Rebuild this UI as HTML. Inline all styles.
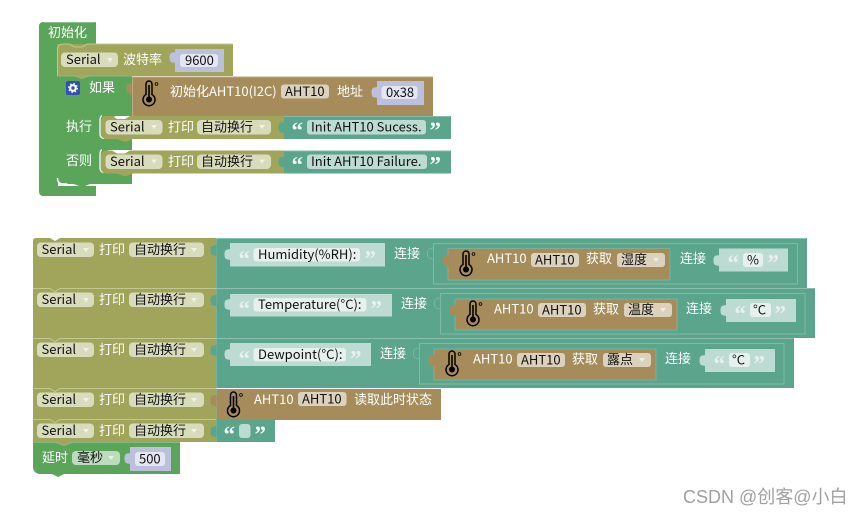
<!DOCTYPE html>
<html>
<head>
<meta charset="utf-8">
<style>
html,body{margin:0;padding:0;background:#fff;width:862px;height:515px;overflow:hidden}
svg{display:block}
text{font-family:"Noto Sans CJK SC","Liberation Sans",sans-serif;font-size:13px}
.w{fill:#fff}
.k{fill:#111}
text.q{fill:#f4f8f6;font-family:"Liberation Serif",serif;font-size:23px;font-weight:bold}
text.ql{fill:#e6f1ee;font-family:"Liberation Serif",serif;font-size:23px;font-weight:bold}
</style>
</head>
<body>
<svg width="862" height="515" viewBox="0 0 862 515" xmlns="http://www.w3.org/2000/svg">
<defs>
<path id="tab" d="M.5,3.5c0,4-6,-1-6,7c0,8,6,3,6,7z"/>
<g id="th">
<path d="M-2.5,-10a3,3 0 0 1 6,0v10.500a6,6 0 1 1-6,0z" transform="translate(-.5,0)" fill="none" stroke="#000" stroke-width="1.500"/>
<circle cx="0" cy="5.500" r="3" fill="#000"/><rect x="-.8" y="-9" width="1.600" height="13" fill="#000"/>
<circle cx="7.500" cy="-10" r="1.400" fill="none" stroke="#000" stroke-width=".8"/>
</g>
<path id="ar" d="M0,0h6l-3,4z"/>
</defs>

<!-- first stack: init hat -->
<path d="M43,22H96V44H58V186H96V196H43a4,4 0 0 1-4-4V26a4,4 0 0 1 4-4z" fill="#5ba55b"/>
<path d="M43.500,22.500H95.500" stroke="#8cc08c" fill="none"/>
<path d="M57,44H233V76H90l-8,3l-8,-3H57z" fill="#a0a55b"/>
<path d="M57.500,76V50q0-6 6-6h6l5,3h8l5-3H232.500" stroke="#c4c88f" fill="none"/>
<!-- if/else block -->
<path d="M57,76H74l8,3l8-3H132V116H116l-8,3l-8,-3h8V139H132V150H108V173H132V184H90l-8,3l-8-3H63a6,6 0 0 1-6-6z" fill="#5ba55b"/>
<path d="M57,76H132" stroke="#8cc08c" stroke-width=".8"/>
<path d="M102,116q-2,0-2,5v13q0,4 4,4.500M102,150q-2,0-2,5v13q0,4 4,4.500" stroke="#fff" fill="none" stroke-width="1.500" opacity=".85"/>
<path d="M57.500,178q0,6 6,6h4" stroke="#fff" fill="none" stroke-width="1.500"/>
<path d="M74,184l8,3l8-3z" fill="#5ba55b"/>
<rect x="66" y="81" width="14" height="14" rx="2" fill="#3350b5"/>
<circle cx="73" cy="88" r="2.800" fill="none" stroke="#fff" stroke-width="2.200"/>
<circle cx="73" cy="88" r="4.400" fill="none" stroke="#fff" stroke-width="1.200" stroke-dasharray="1.500 2"/>

<text x="48" y="37" class="w">初始化</text>
<rect x="61" y="52.500" width="57" height="14.500" rx="4" fill="#d9dbbd"/>
<text x="66" y="64" class="k">Serial</text>
<use href="#ar" x="107" y="58" fill="#fff" fill-opacity=".6"/>
<text x="123" y="64" class="w">波特率</text>
<rect x="175" y="49" width="49" height="23" fill="#bcc0dc"/>
<use href="#tab" x="175" y="47" fill="#bcc0dc"/>
<rect x="180" y="54" width="38" height="13" rx="3" fill="#e4e6f1"/>
<text x="185" y="65" class="k">9600</text>
<text x="89" y="92" class="w">如果</text>
<text x="66" y="131" class="w">执行</text>
<text x="66" y="165" class="w">否则</text>

<!-- AHT init -->
<rect x="132" y="76.500" width="301" height="39.500" fill="#a68c5b"/>
<use href="#tab" x="132" y="78" fill="#a68c5b"/>
<path d="M132.500,116V77H433" stroke="#c5b38f" fill="none" stroke-width=".8"/>
<use href="#th" x="149" y="94"/>
<text x="170" y="96" class="w">初始化AHT10(I2C)</text>
<rect x="281" y="84.500" width="48" height="14" rx="3" fill="#dbd1bd"/>
<text x="285" y="96" class="k">AHT10</text>
<text x="337" y="96" class="w">地址</text>
<rect x="377" y="81" width="47" height="24" fill="#bcc0dc"/>
<use href="#tab" x="377" y="82" fill="#bcc0dc"/>
<rect x="381.500" y="86" width="36" height="13" rx="3" fill="#e4e6f1"/>
<text x="386" y="97" class="k">0x38</text>

<!-- statements -->
<g id="st1">
<path d="M106,116H112l5,3h8l5-3H284V139H133l-8,3-8-3H106a5,5 0 0 1-5-5V121a5,5 0 0 1 5-5z" fill="#a0a55b"/>
<rect x="105.500" y="120" width="57" height="14.500" rx="4" fill="#d9dbbd"/>
<text x="110" y="131.500" class="k">Serial</text>
<use href="#ar" x="151" y="125" fill="#fff" fill-opacity=".6"/>
<text x="168" y="131.500" class="w">打印</text>
<rect x="197" y="120" width="74" height="14.500" rx="4" fill="#d9dbbd"/>
<text x="201" y="131.500" class="k">自动换行</text>
<use href="#ar" x="259" y="125" fill="#fff" fill-opacity=".6"/>
<rect x="284" y="116" width="167" height="23" fill="#5ba58c"/>
<use href="#tab" x="284" y="117" fill="#5ba58c"/>
<path d="M284,116.500H450.500" stroke="#8cc0ae" stroke-width=".8"/>
</g>
<text x="291.500" y="138" class="q">“</text>
<rect x="307" y="120" width="119" height="14.500" rx="3" fill="#bddbd2"/>
<text x="311" y="131.500" class="k">Init AHT10 Sucess.</text>
<text x="429.500" y="138" class="q">”</text>
<use href="#st1" y="34.500"/>
<text x="291.500" y="172.500" class="q">“</text>
<rect x="307" y="154.500" width="120" height="14.500" rx="3" fill="#bddbd2"/>
<text x="311" y="166" class="k">Init AHT10 Failure.</text>
<text x="429.500" y="172.500" class="q">”</text>

<!-- second stack -->
<path d="M36,238H50l5,3 5-3H216V442H72l-8,3-8-3H33V241q0-3 3-3z" fill="#a0a55b"/>
<rect x="216" y="238" width="591" height="50" fill="#5ba58c"/>
<rect x="216" y="288" width="599" height="50" fill="#5ba58c"/>
<rect x="216" y="338" width="578" height="50" fill="#5ba58c"/>
<rect x="216" y="389" width="225" height="31" fill="#a68c5b"/>
<rect x="216" y="420" width="59" height="22" fill="#5ba58c"/>
<path d="M216,238.500H806M216,288.500H814M216,338.500H793" stroke="#8cc0ae" stroke-width="1"/>
<path d="M33,288.500H50l5,3 5-3H216M33,338.500H50l5,3 5-3H216M33,388.500H50l5,3 5-3H216M33,419.500H50l5,3 5-3H216" stroke="#c4c88f" fill="none" stroke-width="1"/>
<path d="M216.500,238V442" stroke="#8cc0ae" stroke-width=".5"/>

<g id="pr">
<rect x="37" y="242.500" width="57" height="14.500" rx="4" fill="#d9dbbd"/>
<text x="41.500" y="254" class="k">Serial</text>
<use href="#ar" x="83" y="248" fill="#fff" fill-opacity=".6"/>
<text x="99" y="254" class="w">打印</text>
<rect x="129" y="242.500" width="75" height="14.500" rx="4" fill="#d9dbbd"/>
<text x="134" y="254" class="k">自动换行</text>
<use href="#ar" x="191" y="248" fill="#fff" fill-opacity=".6"/>
<use href="#tab" x="216" y="240" fill="#5ba58c"/>
</g>
<use href="#pr" y="50"/>
<use href="#pr" y="100"/>
<use href="#pr" y="150"/>
<use href="#pr" y="181"/>

<!-- row1 -->
<rect x="230" y="243" width="155" height="23.500" fill="#bddbd2"/>
<use href="#tab" x="230" y="244" fill="#bddbd2"/>
<text x="238.500" y="266.500" class="ql">“</text>
<rect x="253.500" y="248" width="106.500" height="13.500" rx="3" fill="#e6f1ee"/>
<text x="258" y="259" class="k">Humidity(%RH):</text>
<text x="364.500" y="266.500" class="ql">”</text>
<text x="394" y="258" class="w">连接</text>
<rect x="433.500" y="243.500" width="364" height="40.500" fill="none" stroke="#80b9a5" stroke-width="1"/>
<use href="#tab" x="433" y="243" fill="#5ba58c" stroke="#80b9a5" stroke-width=".8"/>
<rect x="448" y="248.500" width="222" height="31.500" fill="#a68c5b" stroke="#8cc0ae" stroke-width=".5"/>
<use href="#tab" x="448" y="250" fill="#a68c5b"/>
<use href="#th" x="466" y="264"/>
<text x="487" y="263" class="w">AHT10</text>
<rect x="531" y="253" width="48" height="14" rx="3" fill="#dbd1bd"/>
<text x="535" y="264.500" class="k">AHT10</text>
<text x="586" y="263" class="w">获取</text>
<rect x="617" y="253" width="48" height="14" rx="3" fill="#dbd1bd"/>
<text x="621" y="264" class="k">湿度</text>
<use href="#ar" x="653" y="258" fill="#fff" fill-opacity=".6"/>
<text x="680" y="263" class="w">连接</text>
<rect x="719" y="248.500" width="69" height="23" fill="#bddbd2"/>
<use href="#tab" x="719" y="250" fill="#bddbd2"/>
<text x="727.500" y="270.500" class="ql">“</text>
<rect x="743" y="253" width="20" height="14" rx="3" fill="#e6f1ee"/>
<text x="747" y="264.500" class="k">%</text>
<text x="767.500" y="270.500" class="ql">”</text>

<!-- row2 -->
<rect x="230" y="294" width="162" height="22.500" fill="#bddbd2"/>
<use href="#tab" x="230" y="294" fill="#bddbd2"/>
<text x="238.500" y="316.500" class="ql">“</text>
<rect x="253.500" y="298" width="113" height="13.500" rx="3" fill="#e6f1ee"/>
<text x="258" y="309" class="k">Temperature(°C):</text>
<text x="370.500" y="316.500" class="ql">”</text>
<text x="401" y="308" class="w">连接</text>
<rect x="440.500" y="293.500" width="364.500" height="40.500" fill="none" stroke="#80b9a5" stroke-width="1"/>
<use href="#tab" x="440" y="293" fill="#5ba58c" stroke="#80b9a5" stroke-width=".8"/>
<rect x="455" y="299" width="222" height="31" fill="#a68c5b" stroke="#8cc0ae" stroke-width=".5"/>
<use href="#tab" x="455" y="300" fill="#a68c5b"/>
<use href="#th" x="473" y="314"/>
<text x="494" y="313.500" class="w">AHT10</text>
<rect x="538" y="303" width="48" height="14" rx="3" fill="#dbd1bd"/>
<text x="542" y="314.500" class="k">AHT10</text>
<text x="593" y="313.500" class="w">获取</text>
<rect x="624" y="303" width="48" height="14" rx="3" fill="#dbd1bd"/>
<text x="628" y="314" class="k">温度</text>
<use href="#ar" x="660" y="308" fill="#fff" fill-opacity=".6"/>
<text x="686" y="313" class="w">连接</text>
<rect x="726" y="299" width="70" height="23" fill="#bddbd2"/>
<use href="#tab" x="726" y="300" fill="#bddbd2"/>
<text x="734.500" y="321.500" class="ql">“</text>
<rect x="750" y="303" width="21" height="14" rx="3" fill="#e6f1ee"/>
<text x="753" y="314.500" class="k">°C</text>
<text x="774.500" y="321.500" class="ql">”</text>

<!-- row3 -->
<rect x="230" y="343" width="141" height="23" fill="#bddbd2"/>
<use href="#tab" x="230" y="344" fill="#bddbd2"/>
<text x="238.500" y="366.500" class="ql">“</text>
<rect x="253.500" y="348" width="92.500" height="13.500" rx="3" fill="#e6f1ee"/>
<text x="258" y="359" class="k">Dewpoint(°C):</text>
<text x="350" y="366.500" class="ql">”</text>
<text x="380" y="358" class="w">连接</text>
<rect x="419.500" y="343.500" width="364.500" height="40.500" fill="none" stroke="#80b9a5" stroke-width="1"/>
<use href="#tab" x="419" y="343" fill="#5ba58c" stroke="#80b9a5" stroke-width=".8"/>
<rect x="434" y="349" width="222" height="31" fill="#a68c5b" stroke="#8cc0ae" stroke-width=".5"/>
<use href="#tab" x="434" y="350" fill="#a68c5b"/>
<use href="#th" x="452" y="364"/>
<text x="473" y="363.500" class="w">AHT10</text>
<rect x="517" y="353" width="48" height="14" rx="3" fill="#dbd1bd"/>
<text x="521" y="364.500" class="k">AHT10</text>
<text x="572" y="363.500" class="w">获取</text>
<rect x="603" y="353" width="48" height="14" rx="3" fill="#dbd1bd"/>
<text x="607" y="364" class="k">露点</text>
<use href="#ar" x="639" y="358" fill="#fff" fill-opacity=".6"/>
<text x="665" y="363" class="w">连接</text>
<rect x="705" y="349" width="70" height="23" fill="#bddbd2"/>
<use href="#tab" x="705" y="350" fill="#bddbd2"/>
<text x="713.500" y="371.500" class="ql">“</text>
<rect x="729" y="353" width="21" height="14" rx="3" fill="#e6f1ee"/>
<text x="732" y="364.500" class="k">°C</text>
<text x="753.500" y="371.500" class="ql">”</text>

<!-- row4 -->
<use href="#tab" x="216" y="390" fill="#a68c5b"/>
<use href="#th" x="233.500" y="405"/>
<text x="254" y="404" class="w">AHT10</text>
<rect x="298" y="392" width="48.500" height="14" rx="3" fill="#dbd1bd"/>
<text x="302" y="403.500" class="k">AHT10</text>
<text x="354" y="404" class="w">读取此时状态</text>

<!-- row5 -->
<text x="223.500" y="442" class="q">“</text>
<rect x="239" y="424" width="11.500" height="14" rx="3" fill="#bddbd2"/>
<text x="254.500" y="442" class="q">”</text>

<!-- delay -->
<path d="M33,442H56l8,3 8-3H180V474H64l-6,3-6-3H40a7,7 0 0 1-7-7z" fill="#5ba55b"/>
<path d="M33,442.500H56l8,3 8-3H180" stroke="#8cc08c" fill="none" stroke-width=".8"/>
<text x="42" y="462" class="w">延时</text>
<rect x="72" y="451" width="48" height="14" rx="4" fill="#bddbbd"/>
<text x="77" y="462" class="k">毫秒</text>
<use href="#ar" x="108" y="456" fill="#fff" fill-opacity=".6"/>
<rect x="130" y="447" width="41" height="24" fill="#bcc0dc"/>
<use href="#tab" x="130" y="448" fill="#bcc0dc"/>
<rect x="135" y="452" width="30" height="14" rx="3" fill="#e4e6f1"/>
<text x="139" y="463.500" class="k">500</text>

<text x="683" y="503" style="font-size:18px;font-family:'Liberation Sans','Noto Sans CJK SC',sans-serif" fill="#a0a0a0">CSDN @创客@小白</text>
</svg>
</body>
</html>
